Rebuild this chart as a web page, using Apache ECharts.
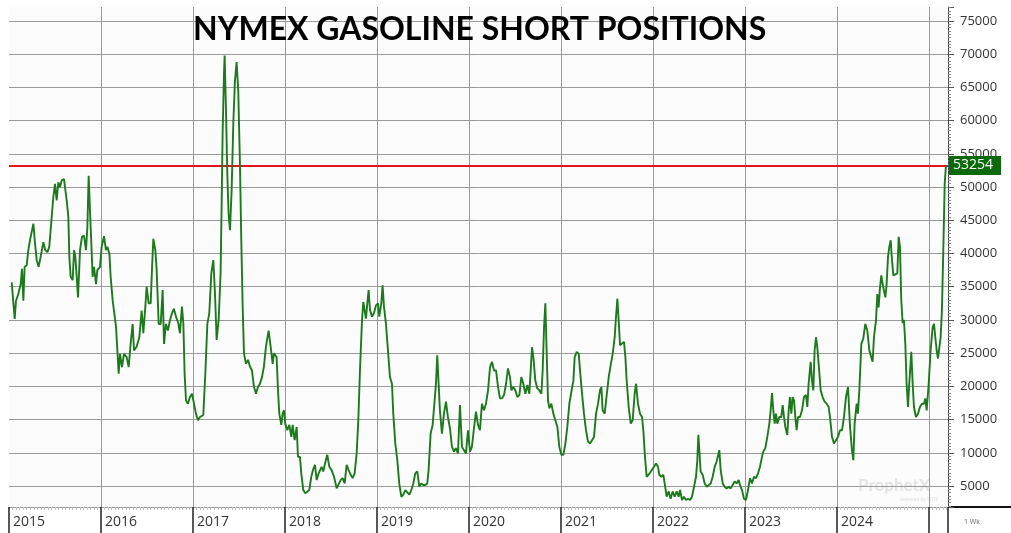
<!DOCTYPE html>
<html>
<head>
<meta charset="utf-8">
<script src="https://cdn.jsdelivr.net/npm/echarts@6.0.0/dist/echarts.min.js"></script>
<style>
  html, body { margin: 0; padding: 0; background: #fff; }
  #chart { width: 1011px; height: 533px; }
</style>
</head>
<body>
<div id="chart"></div>
<script>
// week of each reading, as a decimal year
const weekYears = [
  2015.029, 2015.047, 2015.062, 2015.076, 2015.101, 2015.127, 2015.141, 2015.156, 2015.170, 2015.192,
  2015.210, 2015.228, 2015.246, 2015.265, 2015.283, 2015.301, 2015.322, 2015.344, 2015.373, 2015.395,
  2015.417, 2015.438, 2015.464, 2015.482, 2015.500, 2015.518, 2015.536, 2015.554, 2015.573, 2015.598,
  2015.627, 2015.645, 2015.656, 2015.670, 2015.692, 2015.707, 2015.721, 2015.736, 2015.750, 2015.772,
  2015.793, 2015.815, 2015.837, 2015.852, 2015.866, 2015.880, 2015.895, 2015.909, 2015.924, 2015.946,
  2015.960, 2015.989,
  2016.007, 2016.033, 2016.054, 2016.069, 2016.091, 2016.105, 2016.127, 2016.141, 2016.163, 2016.178,
  2016.192, 2016.207, 2016.228, 2016.250, 2016.279, 2016.301, 2016.322, 2016.344, 2016.359, 2016.388,
  2016.417, 2016.442, 2016.460, 2016.482, 2016.496, 2016.518, 2016.540, 2016.554, 2016.569, 2016.591,
  2016.605, 2016.627, 2016.649, 2016.670, 2016.685, 2016.706, 2016.728, 2016.750, 2016.771, 2016.793,
  2016.815, 2016.840, 2016.858, 2016.880, 2016.895, 2016.909, 2016.924, 2016.945, 2016.967, 2016.989,
  2017.011, 2017.032, 2017.054, 2017.076, 2017.112, 2017.134, 2017.156, 2017.177, 2017.199, 2017.221,
  2017.239, 2017.257, 2017.279, 2017.300, 2017.311, 2017.322, 2017.337, 2017.344, 2017.358, 2017.373,
  2017.387, 2017.402, 2017.420, 2017.438, 2017.456, 2017.474, 2017.492, 2017.511, 2017.525, 2017.540,
  2017.554, 2017.576, 2017.598, 2017.619, 2017.641, 2017.663, 2017.685, 2017.706, 2017.728, 2017.750,
  2017.771, 2017.793, 2017.822, 2017.844, 2017.866, 2017.880, 2017.909, 2017.924, 2017.938, 2017.960,
  2017.974, 2017.989,
  2018.003, 2018.025, 2018.047, 2018.069, 2018.083, 2018.105, 2018.127, 2018.141, 2018.163, 2018.177,
  2018.199, 2018.221, 2018.242, 2018.264, 2018.286, 2018.308, 2018.326, 2018.344, 2018.366, 2018.398,
  2018.416, 2018.435, 2018.460, 2018.482, 2018.507, 2018.533, 2018.562, 2018.583, 2018.605, 2018.627,
  2018.649, 2018.670, 2018.692, 2018.714, 2018.736, 2018.757, 2018.779, 2018.797, 2018.815, 2018.837,
  2018.851, 2018.866, 2018.880, 2018.895, 2018.909, 2018.924, 2018.945, 2018.967, 2018.989,
  2019.011, 2019.025, 2019.047, 2019.061, 2019.076, 2019.097, 2019.119, 2019.141, 2019.163, 2019.177,
  2019.199, 2019.221, 2019.242, 2019.264, 2019.286, 2019.308, 2019.329, 2019.351, 2019.373, 2019.395,
  2019.416, 2019.438, 2019.460, 2019.481, 2019.503, 2019.525, 2019.547, 2019.561, 2019.583, 2019.605,
  2019.626, 2019.641, 2019.655, 2019.670, 2019.684, 2019.706, 2019.728, 2019.750, 2019.771, 2019.793,
  2019.815, 2019.837, 2019.858, 2019.880, 2019.902, 2019.924, 2019.945, 2019.967, 2019.989,
  2020.011, 2020.032, 2020.054, 2020.076, 2020.098, 2020.119, 2020.141, 2020.163, 2020.185, 2020.207,
  2020.229, 2020.250, 2020.272, 2020.294, 2020.316, 2020.337, 2020.359, 2020.381, 2020.403, 2020.424,
  2020.446, 2020.461, 2020.482, 2020.504, 2020.526, 2020.548, 2020.569, 2020.591, 2020.613, 2020.635,
  2020.656, 2020.671, 2020.685, 2020.700, 2020.721, 2020.743, 2020.765, 2020.787, 2020.801, 2020.816,
  2020.830, 2020.845, 2020.859, 2020.874, 2020.895, 2020.917, 2020.939, 2020.961, 2020.982,
  2021.004, 2021.026, 2021.048, 2021.069, 2021.091, 2021.113, 2021.135, 2021.149, 2021.171, 2021.193,
  2021.207, 2021.229, 2021.250, 2021.272, 2021.294, 2021.316, 2021.337, 2021.359, 2021.381, 2021.403,
  2021.424, 2021.439, 2021.453, 2021.475, 2021.497, 2021.519, 2021.540, 2021.562, 2021.584, 2021.598,
  2021.613, 2021.627, 2021.642, 2021.663, 2021.685, 2021.700, 2021.714, 2021.736, 2021.758, 2021.779,
  2021.801, 2021.816, 2021.837, 2021.859, 2021.881, 2021.895, 2021.913, 2021.931, 2021.950, 2021.968,
  2021.989,
  2022.011, 2022.033, 2022.055, 2022.069, 2022.091, 2022.113, 2022.127, 2022.149, 2022.171, 2022.192,
  2022.214, 2022.236, 2022.258, 2022.279, 2022.294, 2022.316, 2022.337, 2022.359, 2022.381, 2022.403,
  2022.424, 2022.446, 2022.468, 2022.482, 2022.493, 2022.504, 2022.518, 2022.540, 2022.562, 2022.584,
  2022.605, 2022.627, 2022.649, 2022.671, 2022.692, 2022.707, 2022.721, 2022.736, 2022.758, 2022.779,
  2022.801, 2022.823, 2022.845, 2022.866, 2022.888, 2022.910, 2022.932, 2022.946, 2022.968, 2022.989,
  2023.011, 2023.033, 2023.055, 2023.076, 2023.098, 2023.120, 2023.142, 2023.163, 2023.185, 2023.200,
  2023.221, 2023.243, 2023.265, 2023.279, 2023.294, 2023.308, 2023.323, 2023.337, 2023.352, 2023.373,
  2023.395, 2023.410, 2023.424, 2023.439, 2023.460, 2023.475, 2023.489, 2023.504, 2023.518, 2023.533,
  2023.547, 2023.562, 2023.576, 2023.598, 2023.620, 2023.641, 2023.663, 2023.678, 2023.692, 2023.714,
  2023.728, 2023.743, 2023.757, 2023.772, 2023.786, 2023.801, 2023.823, 2023.844, 2023.866, 2023.888,
  2023.910, 2023.924, 2023.946, 2023.968, 2023.989,
  2024.011, 2024.033, 2024.055, 2024.076, 2024.098, 2024.120, 2024.142, 2024.163, 2024.178, 2024.192,
  2024.214, 2024.228, 2024.243, 2024.265, 2024.286, 2024.308, 2024.330, 2024.352, 2024.373, 2024.388,
  2024.402, 2024.424, 2024.439, 2024.453, 2024.468, 2024.482, 2024.497, 2024.511, 2024.526, 2024.540,
  2024.555, 2024.569, 2024.584, 2024.598, 2024.613, 2024.634, 2024.656, 2024.671, 2024.685, 2024.699,
  2024.714, 2024.728, 2024.743, 2024.757, 2024.772, 2024.786, 2024.808, 2024.823, 2024.837, 2024.859,
  2024.881, 2024.902, 2024.924, 2024.946, 2024.960, 2024.975, 2024.997,
  2025.018, 2025.040, 2025.055, 2025.069, 2025.084, 2025.098, 2025.112, 2025.127, 2025.141, 2025.156,
  2025.171, 2025.185
];

// NYMEX gasoline short positions (contracts)
const shortPositions = [
  35650, 35400, 30150, 32900, 33900, 35400, 37700, 32900, 38000, 38200,
  40500, 42000, 41700, 44500, 41500, 39000, 38000, 39500, 41700, 40500,
  40200, 41000, 45500, 48500, 50500, 48000, 50700, 50000, 51000, 51200,
  48000, 45500, 39500, 36500, 36000, 40500, 39500, 36500, 33400, 40500,
  42500, 42700, 40500, 44000, 51700, 46500, 41500, 36500, 38000, 35400,
  37500, 38000,
  41000, 42600, 40500, 41000, 40000, 36500, 32900, 31400, 29000, 25400,
  21900, 24900, 22900, 24900, 24400, 22900, 26400, 29400, 25400, 26000,
  27400, 31400, 28000, 32000, 35000, 32500, 32500, 37500, 42200, 40500,
  37500, 29400, 29400, 34500, 26400, 29400, 28400, 30000, 31000, 31700,
  30500, 29500, 28000, 32000, 29500, 21900, 17900, 17400, 18400, 18900,
  17400, 15900, 14900, 15400, 15700, 21900, 29400, 31000, 37000, 39000,
  34000, 27000, 30000, 37000, 47000, 58000, 67000, 69800, 62000, 52000,
  46000, 43500, 49500, 59500, 66000, 68800, 64500, 53000, 42000, 32000,
  25000, 23400, 24000, 23000, 22400, 19900, 18900, 19900, 20400, 21400,
  23000, 26000, 28400, 26000, 23400, 25000, 24400, 19400, 15900, 14200,
  15900, 16400,
  14400, 13400, 14200, 12400, 14200, 11900, 13900, 9400, 9400, 6900,
  4400, 3900, 3800, 4400, 6400, 7600, 8200, 5900, 6900, 7900,
  7200, 8400, 9700, 7900, 7400, 6400, 4650, 4400, 5900, 6200,
  5400, 8200, 7400, 6700, 6200, 6900, 9900, 14900, 22400, 29900,
  32700, 33000, 30200, 32500, 34500, 31500, 30500, 31000, 32200,
  32500, 30500, 32500, 35200, 32000, 29500, 25500, 21400, 20400, 15900,
  11400, 8900, 5400, 3400, 3700, 4400, 4650, 3700, 4400, 5400,
  6900, 7200, 4900, 5400, 5150, 5150, 5400, 7400, 12900, 14200,
  14200, 20400, 24700, 20400, 16400, 12900, 15900, 17700, 15400, 13700,
  10900, 10200, 10700, 9900, 17200, 10900, 10900, 9900, 13400,
  10200, 10900, 13700, 16200, 14200, 13400, 17400, 16400, 17400, 19400,
  22900, 23700, 22400, 22400, 19900, 18200, 18200, 18700, 20400, 22700,
  21400, 19400, 19900, 19400, 18400, 18700, 21400, 20400, 18900, 20200,
  18900, 22400, 25900, 24400, 20900, 19700, 19400, 18900, 22400, 28900,
  32500, 24900, 17900, 16700, 17400, 15900, 14900, 13900, 10900,
  9700, 9700, 11400, 13900, 17400, 19200, 20900, 24400, 25200, 24900,
  22400, 18900, 15900, 13400, 11700, 11400, 11200, 12400, 15900, 17400,
  19400, 19900, 16400, 15900, 18700, 21400, 23200, 24900, 27400, 30400,
  33200, 30000, 26200, 25900, 26700, 24400, 20900, 16900, 14400, 14900,
  18900, 20400, 17400, 15900, 15400, 13400, 9400, 6400, 6200, 7000,
  7000,
  7900, 8400, 7900, 6700, 6400, 6700, 5400, 3400, 4200, 3100,
  4200, 3400, 4200, 3400, 4400, 2900, 3400, 2900, 3100, 2900,
  3400, 4900, 6400, 8900, 12700, 10400, 7200, 6700, 5400, 4900,
  4900, 5400, 6400, 7900, 8700, 8400, 10400, 7400, 5400, 4900,
  4650, 4900, 4650, 5150, 5700, 5400, 5900, 5150, 4400, 3100,
  2900, 4400, 6200, 5400, 6400, 6200, 6900, 7900, 9400, 10200,
  10700, 12400, 14400, 16400, 19000, 16400, 14400, 15900, 14400, 15400,
  15400, 17200, 15400, 13900, 12700, 16400, 18400, 15900, 18400, 17900,
  15400, 13400, 15400, 15400, 16400, 18400, 18700, 16900, 20400, 23700,
  20900, 19400, 25400, 27400, 25900, 23400, 19400, 18400, 17700, 17400,
  16900, 15400, 12400, 11400, 11200,
  12400, 13400, 13400, 15400, 18400, 19900, 13900, 10400, 8900, 14400,
  17400, 15900, 19400, 26400, 27200, 29400, 28400, 25400, 24400, 23700,
  27400, 29900, 33900, 31900, 34900, 36700, 35400, 34400, 33400, 35400,
  39500, 41000, 42000, 39000, 36700, 36500, 37000, 42500, 41000, 33000,
  29500, 30000, 26400, 20400, 16900, 20400, 25200, 20400, 16900, 15400,
  15900, 16900, 17400, 17400, 18200, 16400, 20400,
  25400, 28900, 29400, 27400, 25400, 24200, 24200, 27400, 31500, 40500,
  50500, 53254
];

const yearLabels = ['2015', '2016', '2017', '2018', '2019', '2020', '2021', '2022', '2023', '2024'];
const lastValue = 53254;

const chart = echarts.init(document.getElementById('chart'));

chart.setOption({
  animation: false,
  backgroundColor: '#ffffff',
  title: {
    text: 'NYMEX GASOLINE SHORT POSITIONS',
    left: 188,
    top: 9,
    textStyle: {
      fontFamily: 'Lato',
      fontWeight: 'bold',
      fontSize: 32,
      color: '#000'
    }
  },
  grid: {
    left: 9,
    right: 63,
    top: 7,
    bottom: 26,
    show: true,
    backgroundColor: '#fcfcfc',
    borderWidth: 0
  },
  xAxis: {
    type: 'value',
    min: 2015,
    max: 2025.207,
    interval: 1,
    axisLine: { show: true, lineStyle: { color: '#9a9a9a', width: 1 } },
    axisTick: { show: true, length: 26, lineStyle: { color: '#222', width: 1.5 } },
    minorTick: { show: true, splitNumber: 26, length: 3, lineStyle: { color: '#c4c4c4' } },
    axisLabel: {
      showMaxLabel: false,
      align: 'left',
      margin: 8,
      padding: [0, 0, 0, 4],
      fontFamily: 'Open Sans',
      fontSize: 14,
      color: '#333',
      formatter: v => (yearLabels.indexOf(String(v)) >= 0 ? String(v) : '')
    },
    splitLine: { show: true, showMinLine: false, showMaxLine: false, lineStyle: { color: '#9a9a9a', width: 1 } }
  },
  yAxis: {
    type: 'value',
    position: 'right',
    min: 1850,
    max: 77100,
    splitNumber: 15,
    minInterval: 5000,
    maxInterval: 5000,
    axisLine: { show: true, lineStyle: { color: '#444', width: 1 } },
    axisTick: { show: true, length: 6, lineStyle: { color: '#555' } },
    minorTick: { show: true, splitNumber: 10, length: 3, lineStyle: { color: '#888' } },
    axisLabel: {
      showMinLabel: false,
      showMaxLabel: false,
      margin: 12,
      fontFamily: 'Open Sans',
      fontSize: 13,
      color: '#333',
      formatter: v => String(v)
    },
    splitLine: { show: true, showMinLine: false, showMaxLine: false, lineStyle: { color: '#9a9a9a', width: 1 } }
  },
  graphic: [
    { type: 'text', left: 858, top: 477, style: { text: 'ProphetX', fontFamily: 'Lato', fontWeight: 'bold', fontSize: 17, fill: '#e4e4e4' } },
    { type: 'text', left: 900, top: 497, style: { text: 'powered by DTN', fontFamily: 'Lato', fontSize: 5, fill: '#e0e0e0' } },
    { type: 'rect', left: 948, top: 506, shape: { width: 63, height: 2 }, style: { fill: '#111' } },
    { type: 'text', left: 964, top: 518, style: { text: '1 Wk', fontFamily: 'Open Sans', fontSize: 7, fill: '#666' } }
  ],
  series: [
    {
      type: 'line',
      data: weekYears.map((t, i) => [t, shortPositions[i]]),
      showSymbol: false,
      symbol: 'none',
      lineStyle: { color: '#1c7a1c', width: 1.9 },
      itemStyle: { color: '#1c7a1c' },
      z: 3,
      markLine: {
        silent: true,
        symbol: ['none', 'none'],
        data: [{ yAxis: lastValue }],
        lineStyle: { color: '#e3141a', width: 2, type: 'solid' },
        label: {
          show: true,
          position: 'end',
          distance: 1,
          formatter: String(lastValue),
          color: '#fff',
          backgroundColor: '#0c6a0c',
          padding: [3, 8, 2, 4],
          fontFamily: 'Open Sans',
          fontSize: 14
        },
        emphasis: { disabled: true },
        z: 2
      }
    }
  ]
});
</script>
</body>
</html>
